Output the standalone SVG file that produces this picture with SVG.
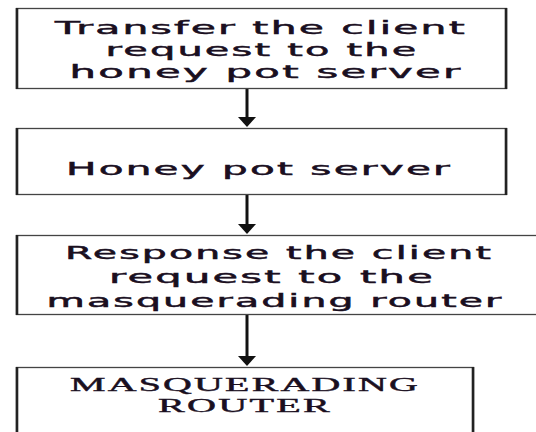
<svg xmlns="http://www.w3.org/2000/svg" width="536" height="432" viewBox="0 0 536 432">
<defs>
<style>
.box{fill:#fff;stroke:#444;stroke-width:1.3}
.side{stroke:#222;stroke-width:2.6}
.t{font-family:"DejaVu Sans",Verdana,sans-serif;font-size:18px;letter-spacing:1px;fill:#1a0f1f;stroke:#1a0f1f;stroke-width:0.5;text-anchor:middle}
.s{font-family:"Liberation Serif","Times New Roman",serif;font-size:18px;letter-spacing:1px;fill:#1a0f1f;stroke:#1a0f1f;stroke-width:0.4;text-anchor:middle}
.c{stroke:#111;stroke-width:3;fill:none}
</style>
</defs>
<g id="connectors">
<line class="c" x1="247" y1="88" x2="247" y2="118"/>
<polygon points="238,117 256,117 247,127" fill="#111"/>
<line class="c" x1="247" y1="195" x2="247" y2="225"/>
<polygon points="238,224 256,224 247,234" fill="#111"/>
<line class="c" x1="247" y1="315" x2="247" y2="357"/>
<polygon points="238,356 256,356 247,366" fill="#111"/>
</g>
<g id="n1">
<rect class="box" x="16.5" y="8.5" width="490" height="80"/>
<line class="side" x1="17" y1="8" x2="17" y2="89"/>
<line class="side" x1="506" y1="8" x2="506" y2="89"/>
<text class="t" x="261" y="34" textLength="412" lengthAdjust="spacingAndGlyphs">Transfer the client</text>
<text class="t" x="262" y="56" textLength="313" lengthAdjust="spacingAndGlyphs">request to the</text>
<text class="t" x="266" y="78" textLength="393" lengthAdjust="spacingAndGlyphs">honey pot server</text>
</g>
<g id="n2">
<rect class="box" x="16.5" y="128.5" width="490" height="66"/>
<line class="side" x1="17" y1="128" x2="17" y2="195"/>
<line class="side" x1="506" y1="128" x2="506" y2="195"/>
<text class="t" x="259" y="175" textLength="386" lengthAdjust="spacingAndGlyphs">Honey pot server</text>
</g>
<g id="n3">
<rect class="box" x="16.5" y="235.5" width="530" height="79"/>
<line class="side" x1="17" y1="235" x2="17" y2="315"/>
<text class="t" x="279" y="259" textLength="428" lengthAdjust="spacingAndGlyphs">Response the client</text>
<text class="t" x="272" y="283" textLength="326" lengthAdjust="spacingAndGlyphs">request to the</text>
<text class="t" x="275" y="307" textLength="457" lengthAdjust="spacingAndGlyphs">masquerading router</text>
</g>
<g id="n4">
<rect class="box" x="16.5" y="367.5" width="457" height="80"/>
<line class="side" x1="17" y1="367" x2="17" y2="432"/>
<line class="side" x1="473" y1="367" x2="473" y2="432"/>
<text class="s" x="245" y="391" textLength="350" lengthAdjust="spacingAndGlyphs">MASQUERADING</text>
<text class="s" x="245" y="412" textLength="174" lengthAdjust="spacingAndGlyphs">ROUTER</text>
</g>
</svg>
